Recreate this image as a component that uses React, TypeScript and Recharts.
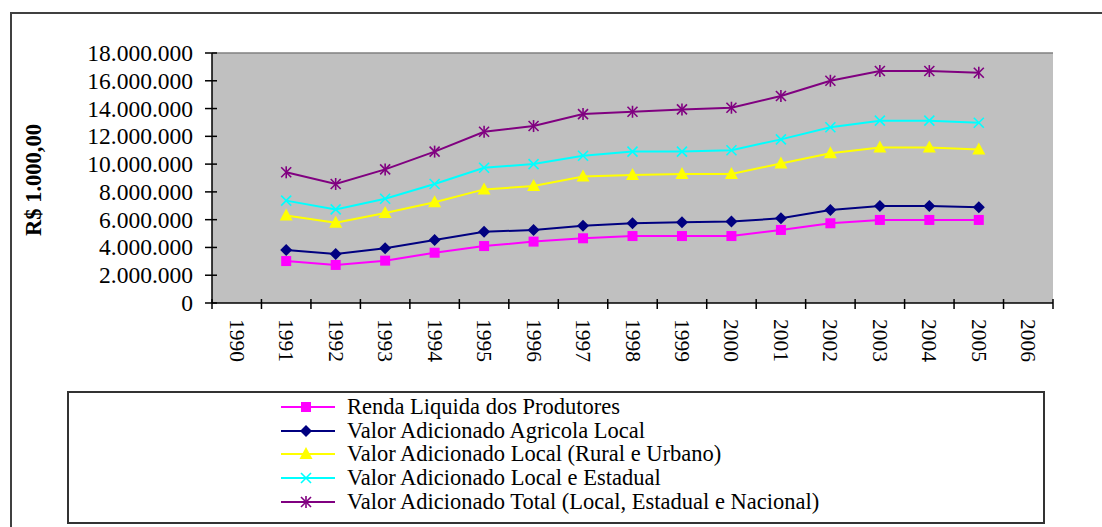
import { LineChart, Line, XAxis, YAxis, ReferenceLine } from 'recharts';

const years = ['1990', '1991', '1992', '1993', '1994', '1995', '1996', '1997', '1998', '1999', '2000', '2001', '2002', '2003', '2004', '2005', '2006'];

// values in R$ 1.000,00 (null where the year has no data)
const rendaLiquida = [null, 3020000, 2740000, 3050000, 3620000, 4100000, 4420000, 4660000, 4820000, 4820000, 4820000, 5260000, 5740000, 5980000, 5980000, 5980000, null];
const agricolaLocal = [null, 3820000, 3530000, 3940000, 4540000, 5130000, 5260000, 5570000, 5740000, 5810000, 5860000, 6100000, 6700000, 6980000, 6980000, 6890000, null];
const localRuralUrbano = [null, 6300000, 5780000, 6480000, 7250000, 8180000, 8420000, 9100000, 9220000, 9290000, 9290000, 10050000, 10780000, 11200000, 11200000, 11060000, null];
const localEstadual = [null, 7370000, 6740000, 7510000, 8570000, 9740000, 10000000, 10600000, 10900000, 10900000, 11000000, 11780000, 12650000, 13130000, 13130000, 12980000, null];
const total = [null, 9410000, 8570000, 9620000, 10900000, 12330000, 12740000, 13600000, 13770000, 13940000, 14060000, 14900000, 16000000, 16700000, 16700000, 16580000, null];

const yTicks = [0, 2000000, 4000000, 6000000, 8000000, 10000000, 12000000, 14000000, 16000000, 18000000];

const series = [
  { key: 'renda', name: 'Renda Liquida dos Produtores', values: rendaLiquida, color: '#ff00ff', marker: 'square' },
  { key: 'agricola', name: 'Valor Adicionado Agricola Local', values: agricolaLocal, color: '#000080', marker: 'diamond' },
  { key: 'local', name: 'Valor Adicionado Local (Rural e Urbano)', values: localRuralUrbano, color: '#ffff00', marker: 'triangle' },
  { key: 'estadual', name: 'Valor Adicionado Local e Estadual', values: localEstadual, color: '#00ffff', marker: 'x' },
  { key: 'total', name: 'Valor Adicionado Total (Local, Estadual e Nacional)', values: total, color: '#800080', marker: 'star' },
];

const data = years.map((year, i) => {
  const row: Record<string, string | number | null> = { year };
  series.forEach((s) => {
    row[s.key] = s.values[i];
  });
  return row;
});

const W = 1102;
const H = 527;
const PLOT_LEFT = 212;
const PLOT_RIGHT = 1053;
const PLOT_TOP = 53;
const PLOT_BOTTOM = 303;
const STEP = (PLOT_RIGHT - PLOT_LEFT) / years.length;
const FONT = '"Liberation Serif", "Times New Roman", serif';

const fmt = (v: number) => String(v).replace(/\B(?=(\d{3})+(?!\d))/g, '.');

function Marker({ type, cx, cy, color }: { type: string; cx: number; cy: number; color: string }) {
  if (type === 'square') return <rect x={cx - 5} y={cy - 5} width={10} height={10} fill={color} />;
  if (type === 'diamond') return <polygon points={`${cx},${cy - 6} ${cx + 6},${cy} ${cx},${cy + 6} ${cx - 6},${cy}`} fill={color} />;
  if (type === 'triangle') return <polygon points={`${cx},${cy - 7} ${cx + 6.5},${cy + 5} ${cx - 6.5},${cy + 5}`} fill={color} />;
  if (type === 'x')
    return (
      <g stroke={color} strokeWidth={1.6}>
        <line x1={cx - 5} y1={cy - 5} x2={cx + 5} y2={cy + 5} />
        <line x1={cx - 5} y1={cy + 5} x2={cx + 5} y2={cy - 5} />
      </g>
    );
  return (
    <g stroke={color} strokeWidth={1.6}>
      <line x1={cx - 5} y1={cy - 5} x2={cx + 5} y2={cy + 5} />
      <line x1={cx - 5} y1={cy + 5} x2={cx + 5} y2={cy - 5} />
      <line x1={cx} y1={cy - 6} x2={cx} y2={cy + 6} />
    </g>
  );
}

function XTick(props: any) {
  const { x, payload, index } = props;
  return (
    <g>
      <line x1={x - STEP / 2} x2={x - STEP / 2} y1={PLOT_BOTTOM - 4} y2={PLOT_BOTTOM + 6} stroke="#000" strokeWidth={1.5} />
      {index === years.length - 1 && (
        <line x1={x + STEP / 2} x2={x + STEP / 2} y1={PLOT_BOTTOM - 4} y2={PLOT_BOTTOM + 6} stroke="#000" strokeWidth={1.5} />
      )}
      <text
        x={x}
        y={319}
        transform={`rotate(90, ${x}, 319)`}
        textAnchor="start"
        dominantBaseline="central"
        fontFamily={FONT}
        fontSize={21.5}
        fill="#000"
      >
        {payload.value}
      </text>
    </g>
  );
}

function YTick(props: any) {
  const { y, payload } = props;
  return (
    <g>
      <line x1={PLOT_LEFT - 7} x2={PLOT_LEFT + 5} y1={y} y2={y} stroke="#000" strokeWidth={1.5} />
      <text x={193} y={y} textAnchor="end" dominantBaseline="central" fontFamily={FONT} fontSize={23.5} fill="#000">
        {fmt(payload.value)}
      </text>
    </g>
  );
}

export default function App() {
  return (
    <div style={{ position: 'absolute', left: 0, top: 0, width: W, height: H, overflow: 'hidden', background: '#fff' }}>
      <div
        style={{
          position: 'absolute',
          left: 10,
          top: 12,
          width: 1200,
          height: 700,
          border: '2px solid #404040',
        }}
      />
      <div
        style={{
          position: 'absolute',
          left: PLOT_LEFT,
          top: PLOT_TOP,
          width: PLOT_RIGHT - PLOT_LEFT,
          height: PLOT_BOTTOM - PLOT_TOP,
          background: '#c0c0c0',
        }}
      />
      <div
        style={{
          position: 'absolute',
          left: 34,
          top: 180,
          transform: 'translate(-50%, -50%) rotate(-90deg)',
          fontFamily: FONT,
          fontWeight: 'bold',
          fontSize: 22.5,
          whiteSpace: 'nowrap',
          color: '#000',
        }}
      >
        R$ 1.000,00
      </div>
      <div style={{ position: 'absolute', left: 0, top: 0 }}>
        <LineChart width={W} height={H} data={data} margin={{ top: PLOT_TOP, right: W - PLOT_RIGHT, bottom: H - PLOT_BOTTOM - 30, left: 0 }}>
          <XAxis
            dataKey="year"
            height={30}
            interval={0}
            padding={{ left: STEP / 2, right: STEP / 2 }}
            tickLine={false}
            axisLine={{ stroke: '#000', strokeWidth: 1.5 }}
            tick={<XTick />}
          />
          <YAxis
            width={PLOT_LEFT}
            domain={[0, 18000000]}
            ticks={yTicks}
            interval={0}
            tickLine={false}
            axisLine={{ stroke: '#000', strokeWidth: 1.5 }}
            tick={<YTick />}
          />
          <YAxis yAxisId="right" orientation="right" width={0} tick={false} tickLine={false} axisLine={{ stroke: '#808080', strokeWidth: 1.5 }} />
          <ReferenceLine y={18000000} stroke="#808080" strokeWidth={1.5} />
          {series.map((s) => (
            <Line
              key={s.key}
              dataKey={s.key}
              name={s.name}
              stroke={s.color}
              strokeWidth={2}
              isAnimationActive={false}
              dot={(p: any) =>
                p.cy == null ? <g key={`${s.key}-${p.index}`} /> : (
                  <g key={`${s.key}-${p.index}`}>
                    <Marker type={s.marker} cx={p.cx} cy={p.cy} color={s.color} />
                  </g>
                )
              }
              activeDot={false}
            />
          ))}
        </LineChart>
      </div>
      <div
        style={{
          position: 'absolute',
          left: 67,
          top: 391,
          width: 974,
          height: 129,
          border: '2px solid #333',
          fontFamily: FONT,
          fontSize: 22.5,
          color: '#000',
        }}
      >
        {series.map((s, i) => (
          <div key={s.key} style={{ position: 'absolute', left: 212, top: 2 + i * 23.7, height: 24, display: 'flex', alignItems: 'center', whiteSpace: 'nowrap' }}>
            <svg width={54} height={24} style={{ marginRight: 12 }}>
              <line x1={0} x2={54} y1={12} y2={12} stroke={s.color} strokeWidth={2} />
              <Marker type={s.marker} cx={25} cy={12} color={s.color} />
            </svg>
            <span style={{ lineHeight: '24px' }}>{s.name}</span>
          </div>
        ))}
      </div>
    </div>
  );
}
